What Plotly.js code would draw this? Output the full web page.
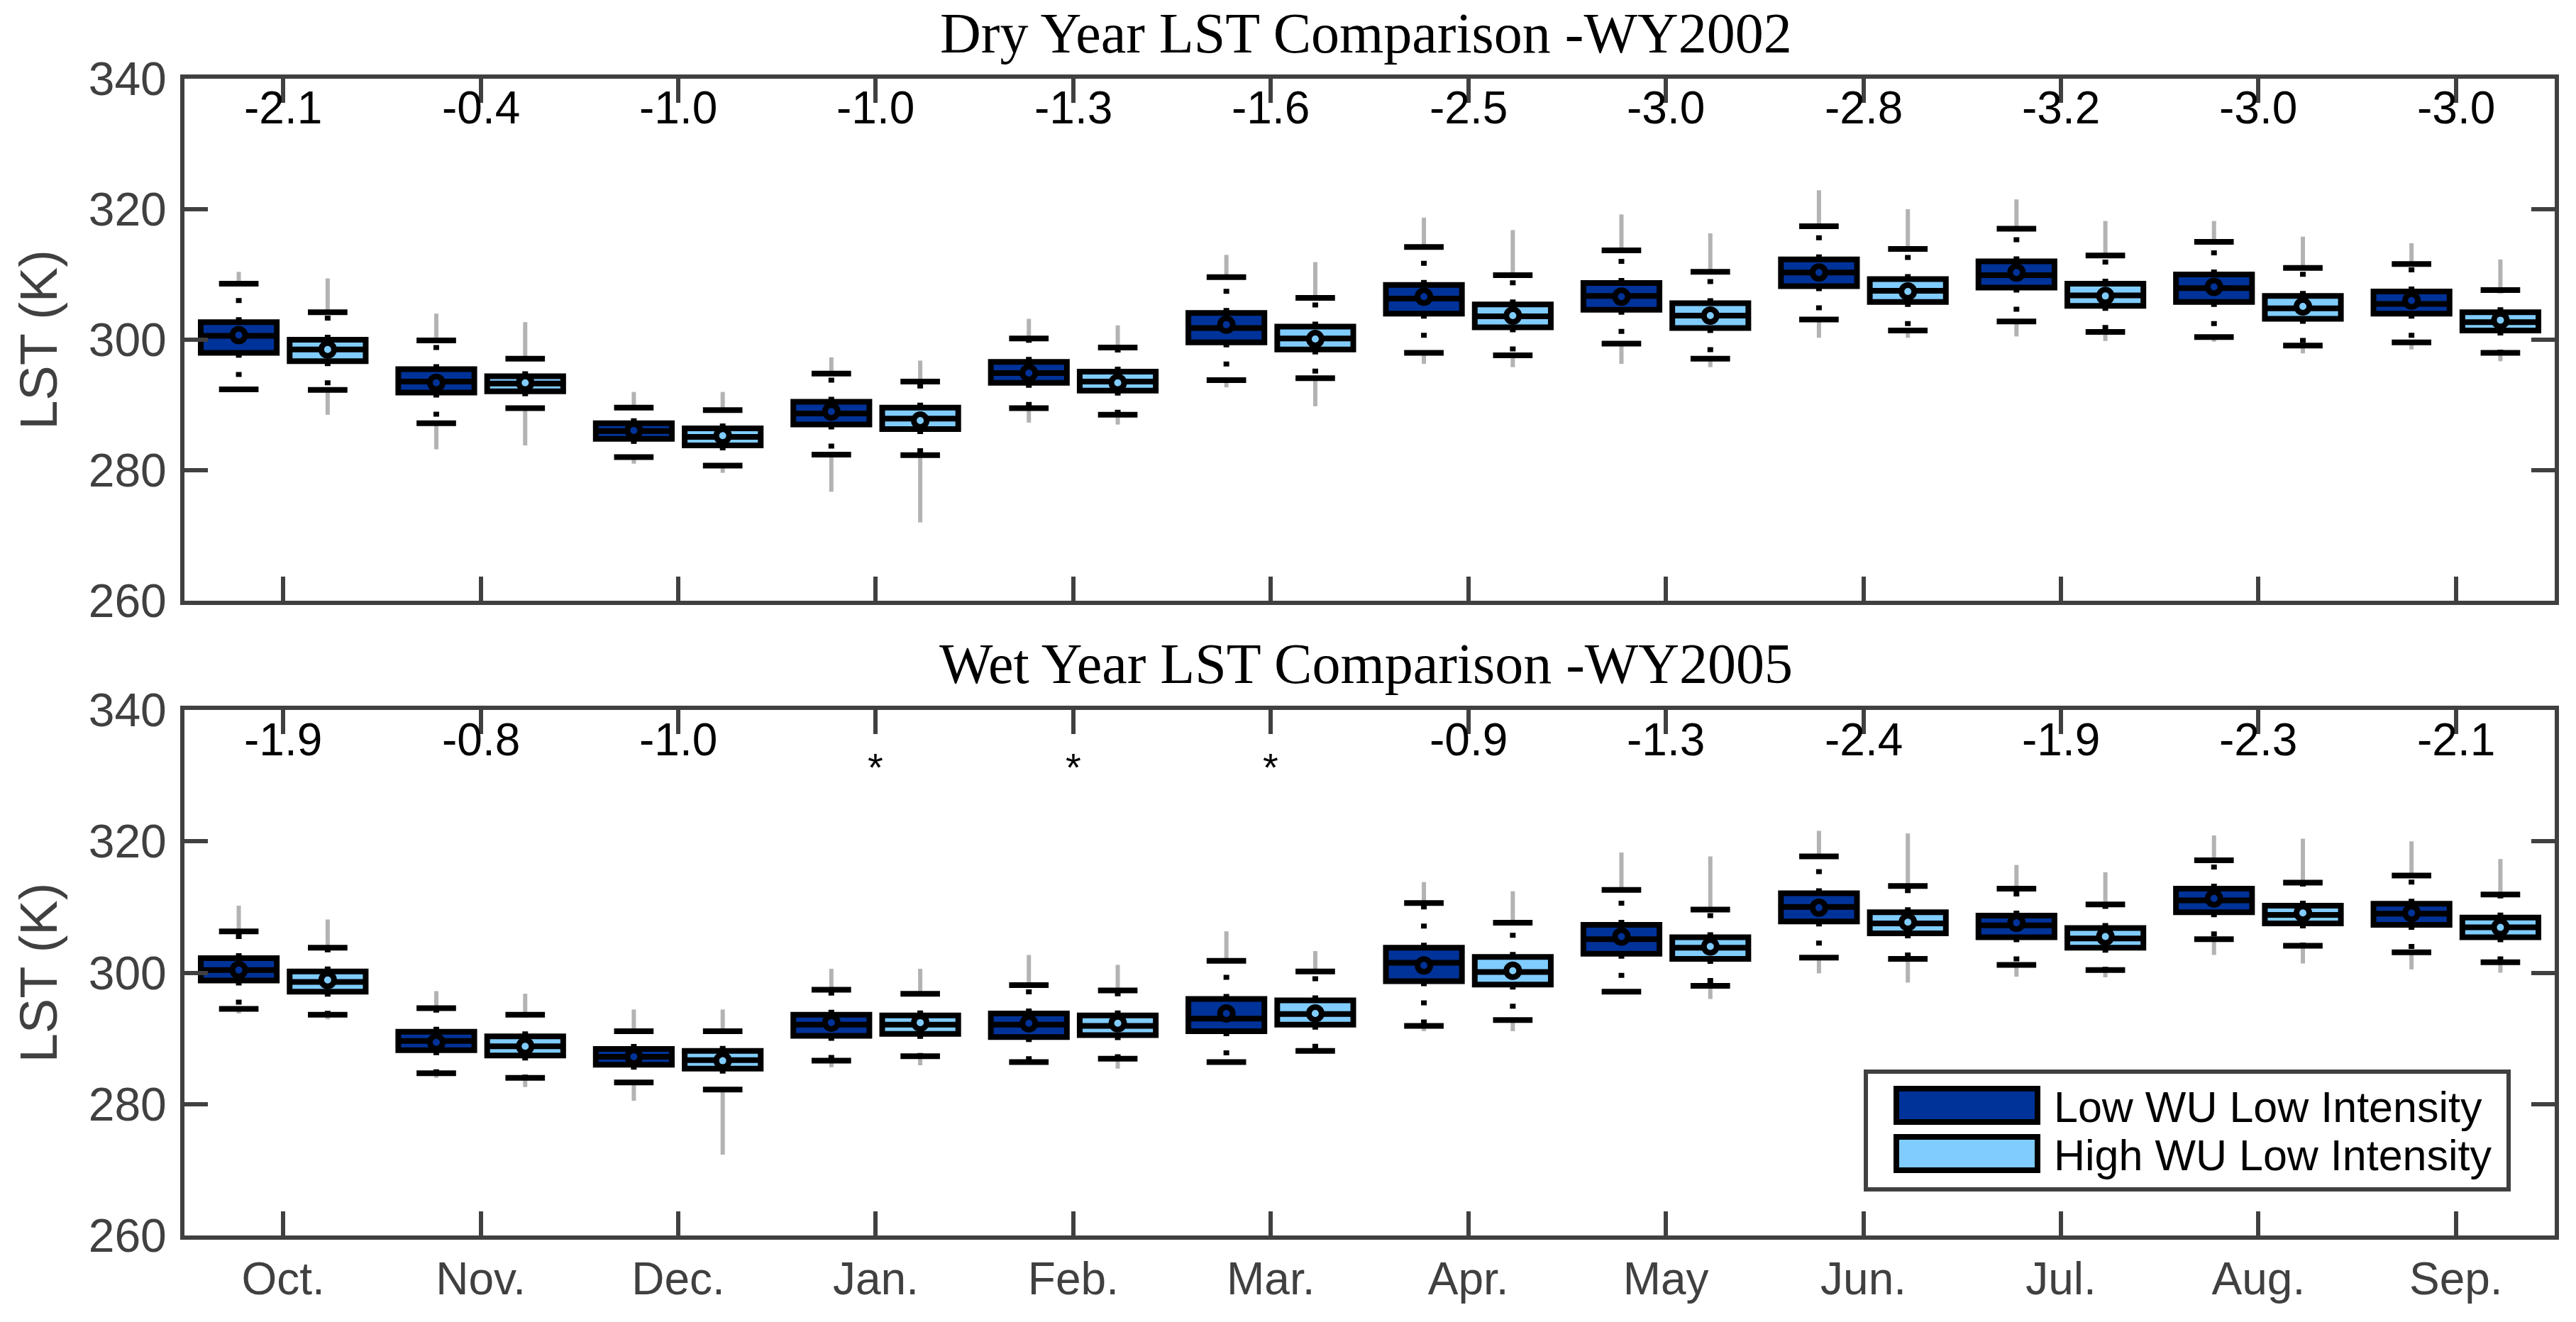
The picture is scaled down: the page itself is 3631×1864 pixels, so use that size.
<!DOCTYPE html>
<html>
<head>
<meta charset="utf-8">
<script src="https://cdn.plot.ly/plotly-3.0.1.min.js"></script>
<style>html,body{margin:0;padding:0;background:#fff;}#chart{width:3631px;height:1864px;}</style>
</head>
<body>
<div id="chart"></div>
<script>
// ---------- data ----------
const months = ['Oct.','Nov.','Dec.','Jan.','Feb.','Mar.','Apr.','May','Jun.','Jul.','Aug.','Sep.'];
const seriesNames = ['Low WU Low Intensity','High WU Low Intensity'];
const dryTitle = 'Dry Year LST Comparison -WY2002';
const wetTitle = 'Wet Year LST Comparison -WY2005';
const dryDiff = ['-2.1','-0.4','-1.0','-1.0','-1.3','-1.6','-2.5','-3.0','-2.8','-3.2','-3.0','-3.0'];
const wetDiff = ['-1.9','-0.8','-1.0','*','*','*','-0.9','-1.3','-2.4','-1.9','-2.3','-2.1'];

// Dry year (WY2002), Low WU Low Intensity
const dryLowOutMax = [310.4,304.0,292.0,297.3,303.2,313.0,318.7,319.2,322.9,321.5,318.2,314.8];
const dryLowHiW    = [308.6,299.9,289.6,294.8,300.2,309.6,314.2,313.7,317.4,317.0,315.0,311.6];
const dryLowQ3     = [302.7,295.5,287.2,290.5,296.6,304.1,308.4,308.7,312.3,312.0,310.0,307.4];
const dryLowMed    = [300.6,293.6,286.0,288.7,294.9,301.8,306.3,306.7,310.3,309.9,307.9,305.5];
const dryLowQ1     = [298.0,291.9,284.8,287.0,293.4,299.6,304.0,304.6,308.2,308.0,305.8,304.0];
const dryLowLoW    = [292.4,287.2,282.0,282.4,289.5,293.8,298.0,299.4,303.1,302.8,300.4,299.6];
const dryLowOutMin = [null,283.2,281.0,276.7,287.3,292.7,296.3,296.3,300.3,300.5,299.7,298.5];
const dryLowMean   = [300.7,293.4,286.1,289.0,294.9,302.3,306.6,306.6,310.3,310.3,308.1,306.0];

// Dry year (WY2002), High WU Low Intensity
const dryHighOutMax = [309.4,302.7,292.0,296.8,302.2,311.9,316.8,316.3,320.0,318.2,315.8,312.3];
const dryHighHiW    = [304.2,297.1,289.2,293.6,298.8,306.4,309.9,310.4,313.9,312.9,311.0,307.6];
const dryHighQ3     = [300.0,294.4,286.4,289.6,295.1,302.0,305.4,305.6,309.3,308.6,306.7,304.2];
const dryHighMed    = [298.5,293.3,285.1,287.9,293.6,300.2,303.6,303.7,307.5,306.8,304.8,302.7];
const dryHighQ1     = [296.7,292.1,283.8,286.3,292.2,298.5,301.9,301.8,305.8,305.2,303.2,301.4];
const dryHighLoW    = [292.3,289.5,280.7,282.3,288.5,294.1,297.6,297.1,301.4,301.2,299.1,298.0];
const dryHighOutMin = [288.5,283.8,279.6,272.0,287.0,289.8,295.8,295.8,300.3,299.8,297.9,296.7];
const dryHighMean   = [298.5,293.4,285.3,287.6,293.4,300.1,303.7,303.7,307.4,306.7,305.1,303.0];

// Wet year (WY2005), Low WU Low Intensity
const wetLowOutMax = [310.2,297.2,294.4,300.6,302.7,306.3,313.8,318.3,321.6,316.4,320.9,320.0];
const wetLowHiW    = [306.3,294.6,291.1,297.4,298.1,301.8,310.6,312.6,317.7,312.8,317.1,314.8];
const wetLowQ3     = [302.2,291.0,288.4,293.6,293.8,296.0,303.8,307.3,312.1,308.7,312.8,310.5];
const wetLowMed    = [300.4,289.6,287.2,292.1,292.1,293.0,301.5,305.1,310.0,307.2,311.0,309.0];
const wetLowQ1     = [298.8,288.2,286.0,290.4,290.2,291.1,298.7,302.9,307.8,305.4,309.2,307.3];
const wetLowLoW    = [294.5,284.7,283.3,286.6,286.4,286.4,291.9,297.1,302.3,301.2,305.1,303.1];
const wetLowOutMin = [293.8,284.0,280.5,285.6,null,null,291.1,null,299.9,299.4,302.7,300.5];
const wetLowMean   = [300.4,289.4,287.2,292.4,292.3,293.8,301.1,305.5,309.9,307.6,311.3,309.1];

// Wet year (WY2005), High WU Low Intensity
const wetHighOutMax = [308.1,296.8,294.4,300.6,301.2,303.3,312.4,317.7,321.2,315.3,320.4,317.3];
const wetHighHiW    = [303.8,293.6,291.1,296.8,297.3,300.2,307.6,309.6,313.2,310.4,313.7,311.9];
const wetHighQ3     = [300.2,290.3,288.1,293.5,293.5,295.8,302.4,305.4,309.2,306.8,310.2,308.4];
const wetHighMed    = [298.6,288.8,286.7,292.1,291.9,293.7,300.1,303.8,307.5,305.2,308.8,306.9];
const wetHighQ1     = [297.1,287.4,285.4,290.7,290.5,292.1,298.2,302.1,306.0,303.8,307.5,305.4];
const wetHighLoW    = [293.6,284.0,282.2,287.3,286.9,288.1,292.8,298.0,302.1,300.4,304.1,301.6];
const wetHighOutMin = [292.9,282.6,272.3,285.9,285.4,null,291.1,296.0,298.5,299.3,301.4,300.0];
const wetHighMean   = [298.9,288.8,286.6,292.4,292.3,293.8,300.3,304.0,307.7,305.5,309.1,306.9];

// ---------- style / layout constants ----------
const DARK = '#003399', LIGHT = '#80CCFF', OUTC = '#B3B3B3', AXC = '#404040';
const W = 3631, H = 1864, ML = 260, MR = 30, MT = 111, MB = 122;
const PW = W - ML - MR, PH = H - MT - MB;
const fx = px => (px - ML) / PW;
const fy = py => (H - MB - py) / PH;
const OFFSET = 0.225, BOXW = 0.385, CAPW = 0.2;
const FONT = 'Liberation Sans, Arial, Helvetica, sans-serif';
const SERIF = 'Liberation Serif, Times New Roman, serif';
const pos = months.map((m, i) => i + 1);

function segs(xs, a, b) {
  const X = [], Y = [];
  xs.forEach((x, i) => {
    if (a[i] == null || b[i] == null) return;
    X.push(x, x, null); Y.push(a[i], b[i], null);
  });
  return {X, Y};
}
function caps(xs, v) {
  const X = [], Y = [];
  xs.forEach((x, i) => {
    if (v[i] == null) return;
    X.push(x - CAPW / 2, x + CAPW / 2, null); Y.push(v[i], v[i], null);
  });
  return {X, Y};
}

function series(ax, ay, off, color, d) {
  const xs = pos.map(p => p + off);
  return [{
    type: 'box', xaxis: ax, yaxis: ay, hoverinfo: 'skip', showlegend: false,
    x: xs, q1: d.q1, median: d.med, q3: d.q3,
    lowerfence: d.q1, upperfence: d.q3, width: BOXW, whiskerwidth: 0,
    fillcolor: color, line: {color: '#000000', width: 8}, boxpoints: false
  }];
}
function overlays(ax, ay, off, color, d) {
  const xs = pos.map(p => p + off);
  const base = {xaxis: ax, yaxis: ay, hoverinfo: 'skip', showlegend: false, type: 'scatter'};
  const t = [];
  const ou = segs(xs, d.hiW, d.outMax), ol = segs(xs, d.loW, d.outMin);
  t.push(Object.assign({mode: 'lines', x: ou.X.concat(ol.X), y: ou.Y.concat(ol.Y),
    line: {color: OUTC, width: 6}}, base));
  const wu = segs(xs, d.q3, d.hiW), wl = segs(xs, d.q1, d.loW);
  t.push(Object.assign({mode: 'lines', x: wu.X.concat(wl.X), y: wu.Y.concat(wl.Y),
    line: {color: '#000000', width: 8, dash: '7px,20px'}}, base));
  const cu = caps(xs, d.hiW), cl = caps(xs, d.loW);
  t.push(Object.assign({mode: 'lines', x: cu.X.concat(cl.X), y: cu.Y.concat(cl.Y),
    line: {color: '#000000', width: 8}}, base));
  t.push(Object.assign({mode: 'markers', x: xs, y: d.mean,
    marker: {symbol: 'circle', size: 18, color: color, line: {color: '#000000', width: 8}}}, base));
  return t;
}

const sets = [
  ['x', 'y', -OFFSET, DARK, {q1: dryLowQ1, med: dryLowMed, q3: dryLowQ3, loW: dryLowLoW, hiW: dryLowHiW, outMin: dryLowOutMin, outMax: dryLowOutMax, mean: dryLowMean}],
  ['x', 'y', OFFSET, LIGHT, {q1: dryHighQ1, med: dryHighMed, q3: dryHighQ3, loW: dryHighLoW, hiW: dryHighHiW, outMin: dryHighOutMin, outMax: dryHighOutMax, mean: dryHighMean}],
  ['x2', 'y2', -OFFSET, DARK, {q1: wetLowQ1, med: wetLowMed, q3: wetLowQ3, loW: wetLowLoW, hiW: wetLowHiW, outMin: wetLowOutMin, outMax: wetLowOutMax, mean: wetLowMean}],
  ['x2', 'y2', OFFSET, LIGHT, {q1: wetHighQ1, med: wetHighMed, q3: wetHighQ3, loW: wetHighLoW, hiW: wetHighHiW, outMin: wetHighOutMin, outMax: wetHighOutMax, mean: wetHighMean}]
];
let data = [];
sets.forEach(s => { data = data.concat(series(...s)); });
sets.forEach(s => { data = data.concat(overlays(...s)); });

function xax(domainAnchor, labels) {
  return {
    domain: [0, 1], anchor: domainAnchor, range: [0.5, 12.5],
    tickvals: pos, ticktext: months, showticklabels: labels,
    ticks: 'inside', ticklen: 34, tickwidth: 6, tickcolor: AXC,
    showline: true, linewidth: 6, linecolor: AXC, mirror: 'ticks',
    showgrid: false, zeroline: false, automargin: false,
    tickfont: {family: FONT, size: 64, color: AXC}, ticklabelstandoff: 0
  };
}
function yax(domain, anchor) {
  return {
    domain: domain, anchor: anchor, range: [260, 340],
    tickvals: [260, 280, 300, 320, 340],
    ticks: 'inside', ticklen: 33, tickwidth: 6, tickcolor: AXC,
    showline: true, linewidth: 6, linecolor: AXC, mirror: 'ticks',
    showgrid: false, zeroline: false, automargin: false,
    tickfont: {family: FONT, size: 66, color: AXC}, ticklabelstandoff: 6,
    title: {text: 'LST (K)', font: {family: FONT, size: 74, color: AXC}, standoff: 22}
  };
}

const annotations = [];
dryDiff.forEach((t, i) => annotations.push({xref: 'x', yref: 'y', x: pos[i], y: 335.5, text: t,
  showarrow: false, font: {family: FONT, size: 64, color: '#000000'}}));
wetDiff.forEach((t, i) => {
  const star = t === '*';
  annotations.push({xref: 'x2', yref: 'y2', x: pos[i], y: star ? 331.3 : 335.5, text: t,
    showarrow: false, font: {family: FONT, size: star ? 56 : 64, color: '#000000'}});
});
annotations.push({xref: 'paper', yref: 'paper', x: fx(1925), y: fy(47), text: dryTitle,
  showarrow: false, xanchor: 'center', yanchor: 'middle', font: {family: SERIF, size: 80, color: '#000000'}});
annotations.push({xref: 'paper', yref: 'paper', x: fx(1925), y: fy(936), text: wetTitle,
  showarrow: false, xanchor: 'center', yanchor: 'middle', font: {family: SERIF, size: 80, color: '#000000'}});

// legend (drawn as shapes + text)
const legBox = {x0: 2630, x1: 3536, y0: 1511, y1: 1677};
const swatches = [{y0: 1531, y1: 1586, c: DARK}, {y0: 1599, y1: 1654, c: LIGHT}];
const shapes = [{type: 'rect', xref: 'paper', yref: 'paper', x0: fx(legBox.x0), x1: fx(legBox.x1),
  y0: fy(legBox.y1), y1: fy(legBox.y0), line: {color: AXC, width: 6}, fillcolor: '#ffffff', layer: 'above'}];
swatches.forEach((s, i) => {
  shapes.push({type: 'rect', xref: 'paper', yref: 'paper', x0: fx(2673), x1: fx(2872),
    y0: fy(s.y1 - 4), y1: fy(s.y0 + 4), line: {color: '#000000', width: 8}, fillcolor: s.c, layer: 'above'});
  annotations.push({xref: 'paper', yref: 'paper', x: fx(2893), y: fy((s.y0 + s.y1) / 2 + 2), text: seriesNames[i],
    showarrow: false, xanchor: 'left', yanchor: 'middle', font: {family: FONT, size: 61, color: '#000000'}});
});

const layout = {
  width: W, height: H, margin: {l: ML, r: MR, t: MT, b: MB, pad: 0},
  paper_bgcolor: '#ffffff', plot_bgcolor: '#ffffff',
  showlegend: false, boxmode: 'overlay',
  font: {family: FONT, color: AXC},
  xaxis: xax('y', false), yaxis: yax([fy(847), 1], 'x'),
  xaxis2: xax('y2', true), yaxis2: yax([0, fy(1001)], 'x2'),
  annotations: annotations, shapes: shapes
};
Plotly.newPlot('chart', data, layout, {staticPlot: true});
</script>
</body>
</html>
